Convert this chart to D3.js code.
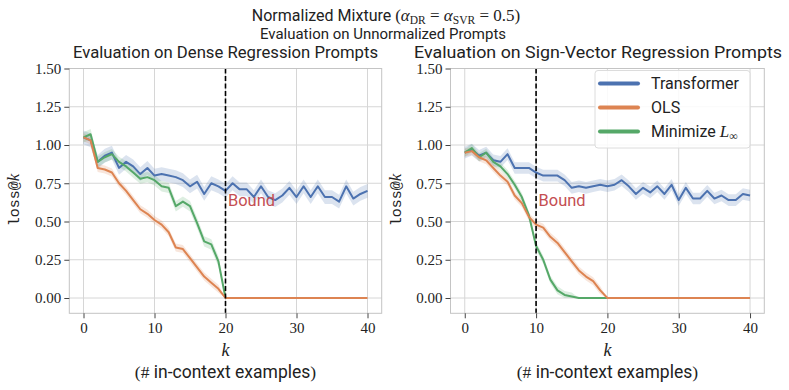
<!DOCTYPE html>
<html>
<head>
<meta charset="utf-8">
<script src="https://cdn.jsdelivr.net/npm/d3@7"></script>
<style>
  body { margin: 0; background: #fff; }
  svg { display: block; }
</style>
</head>
<body>
<div id="chart"></div>
<script>
// values (k = 0..40)
const ks = d3.range(0, 41);
const xTicks = [0, 10, 20, 30, 40];
const yTicks = [0, 0.25, 0.5, 0.75, 1.0, 1.25, 1.5];
const seriesNames = ["Transformer", "OLS", "Minimize"];

const denseTransformer = [1.05, 1.03, 0.89, 0.93, 0.95, 0.85, 0.89, 0.86, 0.81, 0.85,
  0.80, 0.81, 0.80, 0.79, 0.77, 0.73, 0.76, 0.68, 0.75, 0.73,
  0.70, 0.75, 0.71, 0.71, 0.66, 0.73, 0.66, 0.64, 0.67, 0.72,
  0.66, 0.73, 0.66, 0.73, 0.66, 0.66, 0.63, 0.73, 0.65, 0.68, 0.70];
const denseOLS = [1.05, 1.03, 0.85, 0.84, 0.82, 0.75, 0.70, 0.64, 0.58, 0.55,
  0.51, 0.48, 0.43, 0.33, 0.32, 0.26, 0.20, 0.14, 0.10, 0.06,
  0, 0, 0, 0, 0, 0, 0, 0, 0, 0, 0, 0, 0, 0, 0, 0, 0, 0, 0, 0, 0];
const denseMin = [1.05, 1.07, 0.89, 0.92, 0.94, 0.89, 0.86, 0.82, 0.78, 0.79,
  0.77, 0.73, 0.72, 0.60, 0.63, 0.60, 0.49, 0.37, 0.35, 0.24, 0];

const signTransformer = [0.95, 0.97, 0.93, 0.95, 0.90, 0.89, 0.94, 0.85, 0.85, 0.85,
  0.82, 0.80, 0.80, 0.80, 0.77, 0.72, 0.73, 0.72, 0.73, 0.74,
  0.73, 0.74, 0.77, 0.73, 0.68, 0.72, 0.69, 0.73, 0.68, 0.74,
  0.64, 0.72, 0.65, 0.65, 0.70, 0.65, 0.67, 0.64, 0.64, 0.68, 0.67];
const signOLS = [0.95, 0.96, 0.92, 0.90, 0.85, 0.80, 0.76, 0.67, 0.62, 0.53,
  0.48, 0.46, 0.40, 0.36, 0.30, 0.24, 0.18, 0.14, 0.11, 0.05,
  0, 0, 0, 0, 0, 0, 0, 0, 0, 0, 0, 0, 0, 0, 0, 0, 0, 0, 0, 0, 0];
const signMin = [0.95, 0.98, 0.92, 0.95, 0.89, 0.86, 0.81, 0.74, 0.66, 0.54,
  0.34, 0.25, 0.12, 0.05, 0.02, 0.01, 0, 0, 0, 0, 0];

// half-width of the shaded bands
const denseSpread = [0.045, 0.026, 0.034];
const signSpread = [0.038, 0.026, 0.026];

const width = 789;
const height = 390;
const colors = ["#4C72B0", "#DD8452", "#55A868"];
const boundColor = "#C44E52";
const gridColor = "#d6d6d6";
const sans = "Roboto, 'DejaVu Sans', sans-serif";
const serif = "'Liberation Serif', 'DejaVu Serif', serif";
const mono = "'Liberation Mono', 'DejaVu Sans Mono', monospace";

const plotTop = 68.5, plotBottom = 313.3;

const panels = [
  { left: 69.3, right: 381.7, title: "Evaluation on Dense Regression Prompts",
    titleX: 73, titleLen: 305, bound: 20,
    series: [denseTransformer, denseOLS, denseMin], spread: denseSpread },
  { left: 450.5, right: 764.3, title: "Evaluation on Sign-Vector Regression Prompts",
    titleX: 414, titleLen: 368, bound: 10,
    series: [signTransformer, signOLS, signMin], spread: signSpread, legend: true }
];

const svg = d3.select("#chart").append("svg")
  .attr("width", width)
  .attr("height", height)
  .style("background", "white");

// suptitle
const t1 = svg.append("text")
  .attr("x", 386).attr("y", 21)
  .attr("text-anchor", "middle")
  .attr("font-family", sans).attr("font-size", 16).attr("fill", "#222");
t1.append("tspan").text("Normalized Mixture ");
t1.append("tspan").attr("font-family", serif).attr("font-size", 17).text("(");
t1.append("tspan").attr("font-family", serif).attr("font-style", "italic").attr("font-size", 17).text("α");
t1.append("tspan").attr("font-family", serif).attr("font-size", 11.5).attr("dy", 3).text("DR");
t1.append("tspan").attr("font-family", serif).attr("font-size", 17).attr("dy", -3).text(" = ");
t1.append("tspan").attr("font-family", serif).attr("font-style", "italic").attr("font-size", 17).text("α");
t1.append("tspan").attr("font-family", serif).attr("font-size", 11.5).attr("dy", 3).text("SVR");
t1.append("tspan").attr("font-family", serif).attr("font-size", 17).attr("dy", -3).text(" = 0.5)");

svg.append("text")
  .attr("x", 260).attr("y", 39)
  .attr("font-family", sans).attr("font-size", 15.5).attr("fill", "#222")
  .attr("textLength", 246).attr("lengthAdjust", "spacingAndGlyphs")
  .text("Evaluation on Unnormalized Prompts");

const x = d3.scaleLinear().domain([-2, 42]);
const y = d3.scaleLinear().domain([-0.1, 1.5]).range([plotBottom, plotTop]);

panels.forEach(p => {
  x.range([p.left, p.right]);
  const g = svg.append("g");

  // grid
  g.selectAll("line.gx").data(xTicks).enter().append("line")
    .attr("x1", d => x(d)).attr("x2", d => x(d))
    .attr("y1", plotTop).attr("y2", plotBottom)
    .attr("stroke", gridColor).attr("stroke-width", 1);
  g.selectAll("line.gy").data(yTicks).enter().append("line")
    .attr("x1", p.left).attr("x2", p.right)
    .attr("y1", d => y(d)).attr("y2", d => y(d))
    .attr("stroke", gridColor).attr("stroke-width", 1);

  // bands
  p.series.forEach((vals, i) => {
    const pts = vals.map((v, k) => ({ k, v, s: v === 0 ? 0 : p.spread[i] }));
    g.append("path")
      .datum(pts)
      .attr("fill", colors[i]).attr("fill-opacity", 0.2)
      .attr("d", d3.area()
        .x(d => x(d.k))
        .y0(d => y(Math.max(0, d.v - d.s)))
        .y1(d => y(d.v + d.s)));
  });

  // lines (green under orange so the flat OLS part stays visible)
  [0, 2, 1].forEach(i => {
    g.append("path")
      .datum(p.series[i].map((v, k) => ({ k, v })))
      .attr("fill", "none")
      .attr("stroke", colors[i]).attr("stroke-width", 2)
      .attr("stroke-linejoin", "round")
      .attr("d", d3.line().x(d => x(d.k)).y(d => y(d.v)));
  });

  // bound line
  g.append("line")
    .attr("x1", x(p.bound)).attr("x2", x(p.bound))
    .attr("y1", plotTop).attr("y2", plotBottom)
    .attr("stroke", "#000").attr("stroke-width", 1.6)
    .attr("stroke-dasharray", "5,2.5");
  g.append("text")
    .attr("x", x(p.bound) + 2.5).attr("y", y(0.6))
    .attr("font-family", sans).attr("font-size", 16)
    .attr("fill", boundColor)
    .attr("textLength", 47).attr("lengthAdjust", "spacingAndGlyphs")
    .text("Bound");

  // spines
  g.append("rect")
    .attr("x", p.left).attr("y", plotTop)
    .attr("width", p.right - p.left).attr("height", plotBottom - plotTop)
    .attr("fill", "none").attr("stroke", "#c4c4c4").attr("stroke-width", 1);

  // axes
  const ya = g.append("g").attr("transform", `translate(${p.left},0)`)
    .call(d3.axisLeft(y).tickValues(yTicks).tickFormat(d3.format(".2f")).tickSize(5).tickPadding(3));
  const xa = g.append("g").attr("transform", `translate(0,${plotBottom})`)
    .call(d3.axisBottom(x).tickValues(xTicks).tickSize(5).tickPadding(4));
  [ya, xa].forEach(a => {
    a.select(".domain").remove();
    a.selectAll(".tick line").attr("stroke", "#444");
    a.selectAll(".tick text").attr("font-family", serif).attr("font-size", 15).attr("fill", "#222");
  });

  // title
  svg.append("text")
    .attr("x", p.titleX).attr("y", 58)
    .attr("font-family", sans).attr("font-size", 16.5).attr("fill", "#222")
    .attr("textLength", p.titleLen).attr("lengthAdjust", "spacingAndGlyphs")
    .text(p.title);

  // y label
  const yl = svg.append("text")
    .attr("transform", `translate(${p.left - 50},200) rotate(-90)`)
    .attr("text-anchor", "middle").attr("fill", "#222");
  yl.append("tspan").attr("font-family", mono).attr("font-size", 15).text("loss@");
  yl.append("tspan").attr("font-family", serif).attr("font-style", "italic").attr("font-size", 17).text("k");

  // x label
  const cx = (p.left + p.right) / 2;
  svg.append("text")
    .attr("x", cx).attr("y", 356)
    .attr("text-anchor", "middle")
    .attr("font-family", serif).attr("font-style", "italic").attr("font-size", 18).attr("fill", "#222")
    .text("k");
  const xl = svg.append("text")
    .attr("x", cx).attr("y", 378)
    .attr("text-anchor", "middle")
    .attr("font-family", sans).attr("font-size", 17.5).attr("fill", "#222");
  xl.append("tspan").attr("font-family", serif).text("(# ");
  xl.append("tspan").text("in-context examples");
  xl.append("tspan").attr("font-family", serif).text(")");

  // legend
  if (p.legend) {
    const lg = svg.append("g");
    lg.append("rect")
      .attr("x", 595).attr("y", 70.5).attr("width", 155).attr("height", 77.5)
      .attr("rx", 3)
      .attr("fill", "#fff").attr("fill-opacity", 0.85)
      .attr("stroke", "#dcdcdc").attr("stroke-width", 1);
    seriesNames.forEach((name, i) => {
      const ry = 83.5 + i * 24;
      lg.append("line")
        .attr("x1", 600).attr("x2", 638).attr("y1", ry).attr("y2", ry)
        .attr("stroke", colors[i]).attr("stroke-width", 4).attr("stroke-linecap", "round");
      const tx = lg.append("text")
        .attr("x", 651).attr("y", ry + 5.5)
        .attr("font-family", sans).attr("font-size", 16).attr("fill", "#222");
      if (i < 2) {
        tx.text(name);
      } else {
        tx.append("tspan").text("Minimize ");
        tx.append("tspan").attr("font-family", serif).attr("font-style", "italic").attr("font-size", 17).text("L");
        tx.append("tspan").attr("font-family", serif).attr("font-size", 12).attr("dy", 3).text("∞");
      }
    });
  }
});
</script>
</body>
</html>
